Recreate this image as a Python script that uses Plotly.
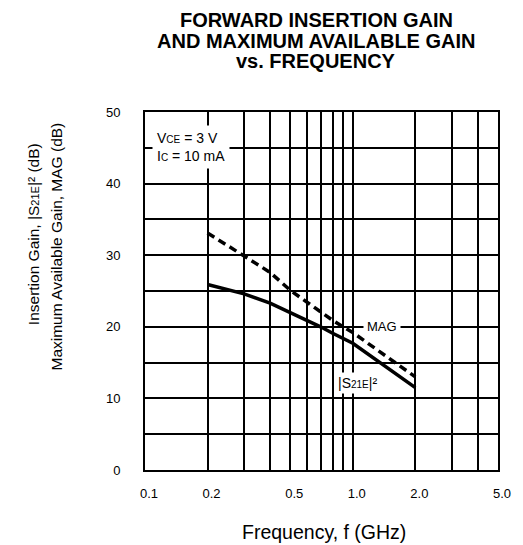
import plotly.graph_objects as go

# ---- data ----
freq_ghz = [0.2, 0.3, 0.4, 0.5, 0.6, 0.7, 0.8, 0.9, 1.0, 2.0]
s21e_db = [25.9, 24.6, 23.3, 22.0, 20.9, 20.0, 19.1, 18.4, 17.7, 11.5]
mag_db = [33.1, 29.9, 27.6, 25.1, 23.5, 22.0, 20.9, 20.0, 19.2, 13.0]

x_tick_vals = [0.1, 0.2, 0.5, 1.0, 2.0, 5.0]
x_tick_text = ["0.1", "0.2", "0.5", "1.0", "2.0", "5.0"]
x_minor_vals = [0.3, 0.4, 0.6, 0.7, 0.8, 0.9, 3.0, 4.0]
y_tick_vals = [0, 10, 20, 30, 40, 50]
y_minor_vals = [5, 15, 25, 35, 45]

FONT = "Liberation Sans, Arial, sans-serif"

fig = go.Figure()
fig.add_trace(go.Scatter(x=freq_ghz, y=mag_db, mode="lines",
                         line=dict(color="black", width=3.5, dash="8px,5px"),
                         showlegend=False, hoverinfo="skip"))
fig.add_trace(go.Scatter(x=freq_ghz, y=s21e_db, mode="lines",
                         line=dict(color="black", width=3.5),
                         showlegend=False, hoverinfo="skip"))

fig.update_layout(
    width=523, height=545,
    margin=dict(l=145, r=15, t=112, b=75),
    paper_bgcolor="white", plot_bgcolor="white",
    font=dict(family=FONT, color="black"),
    showlegend=False,
)
fig.update_xaxes(
    type="log", range=[-1, 0.69897],
    tickmode="array", tickvals=x_tick_vals, ticktext=x_tick_text,
    showgrid=True, gridcolor="black", gridwidth=2,
    minor=dict(tickmode="array", tickvals=x_minor_vals, showgrid=True,
               gridcolor="black", gridwidth=1.6, ticks=""),
    showline=True, linecolor="black", linewidth=2, mirror=True,
    ticks="", ticklabelstandoff=10, ticklabelshift=4,
    tickfont=dict(size=13, family=FONT, color="black"),
    zeroline=False,
)
fig.update_yaxes(
    range=[0, 50],
    tickmode="array", tickvals=y_tick_vals,
    showgrid=True, gridcolor="black", gridwidth=2,
    minor=dict(tickmode="array", tickvals=y_minor_vals, showgrid=True,
               gridcolor="black", gridwidth=2, ticks=""),
    showline=True, linecolor="black", linewidth=2, mirror=True,
    ticks="", ticklabelstandoff=20,
    tickfont=dict(size=13, family=FONT, color="black"),
    zeroline=False,
)

# title lines
title_lines = ["FORWARD INSERTION GAIN", "AND MAXIMUM AVAILABLE GAIN", "vs. FREQUENCY"]
title_y = [20, 40.5, 61]
for txt, yy in zip(title_lines, title_y):
    fig.add_annotation(text="<b>" + txt + "</b>", xref="paper", yref="paper",
                       x=(321 - 145) / 363, y=1 + (112 - yy) / 358,
                       showarrow=False, xanchor="center", yanchor="middle",
                       font=dict(size=20, family=FONT, color="black"))

# axis titles
fig.add_annotation(text="Frequency, f (GHz)", xref="paper", yref="paper",
                   x=(329 - 145) / 363, y=(470 - 532) / 358,
                   showarrow=False, xanchor="center", yanchor="middle",
                   font=dict(size=19.5, family=FONT, color="black"))
fig.add_annotation(text="Insertion Gain, |S<span style='font-size:11px'>21E</span>|² (dB)",
                   xref="paper", yref="paper",
                   x=(30 - 145) / 363, y=(470 - 234) / 358, textangle=-90,
                   showarrow=False, xanchor="center", yanchor="middle",
                   font=dict(size=15.5, family=FONT, color="black"))
fig.add_annotation(text="Maximum Available Gain, MAG (dB)",
                   xref="paper", yref="paper",
                   x=(53 - 145) / 363, y=(470 - 247) / 358, textangle=-90,
                   showarrow=False, xanchor="center", yanchor="middle",
                   font=dict(size=15.5, family=FONT, color="black"))

# condition box
fig.add_annotation(text="V<span style='font-size:10px'>CE</span> = 3 V<br>I<span style='font-size:10px'>C</span> = 10 mA",
                   xref="paper", yref="paper",
                   x=(152 - 145) / 363, y=(470 - 125) / 358,
                   showarrow=False, xanchor="left", yanchor="top", align="left",
                   bgcolor="white", borderpad=4,
                   font=dict(size=14, family=FONT, color="black"))

# curve labels
fig.add_annotation(text="MAG", x=0.141, y=20, xref="x", yref="y",
                   showarrow=False, xanchor="center", yanchor="middle",
                   bgcolor="white", borderpad=3,
                   font=dict(size=13, family=FONT, color="black"))
fig.add_annotation(text="|S<span style='font-size:10px'>21E</span>|²",
                   x=0.023, y=12.2, xref="x", yref="y",
                   showarrow=False, xanchor="center", yanchor="middle",
                   bgcolor="white", borderpad=2,
                   font=dict(size=14, family=FONT, color="black"))

fig.write_html("out.html")
